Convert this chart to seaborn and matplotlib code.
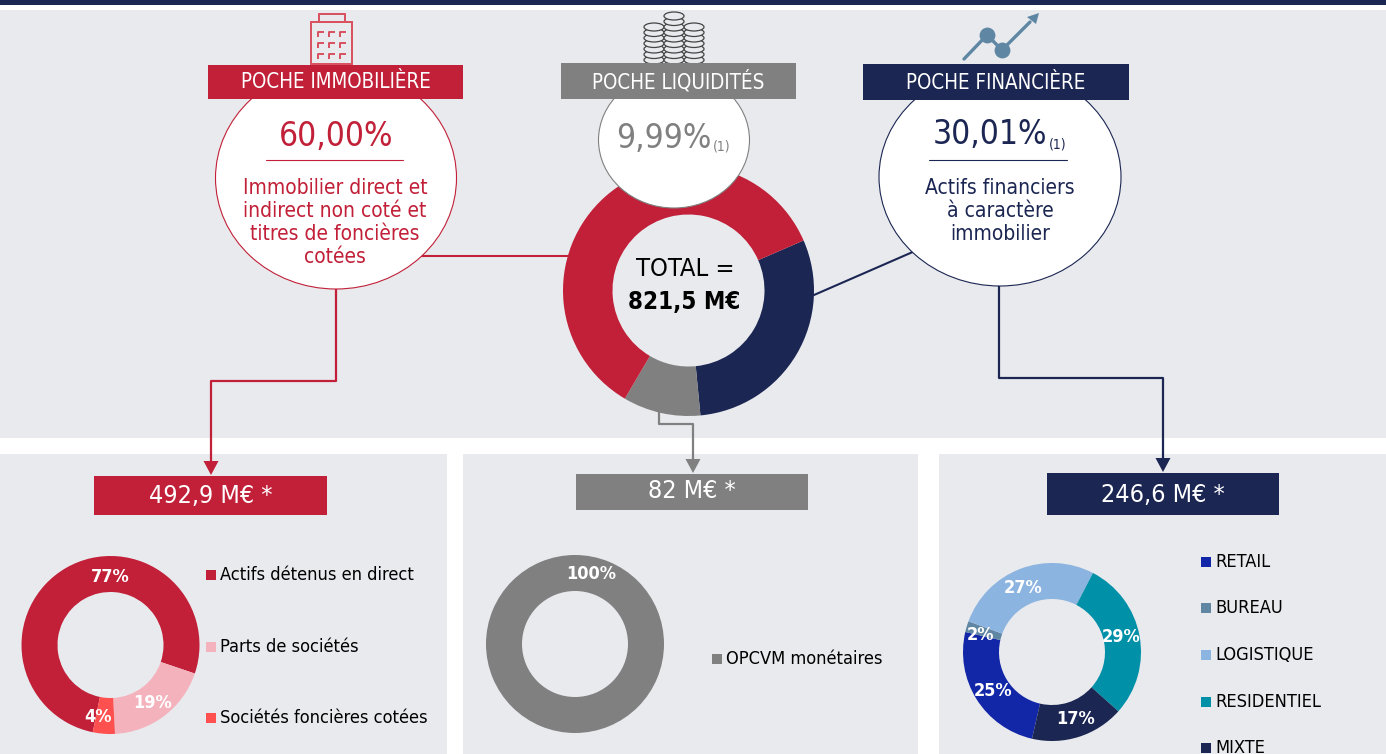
import matplotlib
matplotlib.use("Agg")
import matplotlib.pyplot as plt
from matplotlib.patches import Rectangle, Ellipse, Polygon
import seaborn as sns

W, H = 1386, 754

NAVY = "#1B2652"
RED = "#C12038"
GREY = "#808080"
PANEL = "#E9EAEE"

total_labels = ["Poche financière", "Poche liquidités", "Poche immobilière"]
total_values = [30.01, 9.99, 60.00]
total_colors = [NAVY, GREY, RED]

immo_labels = ["Actifs détenus en direct", "Parts de sociétés", "Sociétés foncières cotées"]
immo_values = [77, 19, 4]
immo_colors = [RED, "#F4B3BC", "#FF5050"]

liq_labels = ["OPCVM monétaires"]
liq_values = [100]
liq_colors = [GREY]

fin_labels = ["RETAIL", "BUREAU", "LOGISTIQUE", "RESIDENTIEL", "MIXTE"]
fin_values = [25, 2, 27, 29, 17]
fin_colors = ["#1226A8", "#5F86A3", "#8BB4E0", "#0090A8", NAVY]

sns.set_theme(style="white")
plt.rcParams["font.family"] = ["DejaVu Sans"]
plt.rcParams["font.stretch"] = "condensed"

fig = plt.figure(figsize=(W / 100, H / 100), dpi=100, facecolor="white")


def pixel_axes(z):
    a = fig.add_axes([0, 0, 1, 1], zorder=z)
    a.set_xlim(0, W)
    a.set_ylim(H, 0)
    a.axis("off")
    a.patch.set_alpha(0)
    return a


base = pixel_axes(0)
top = pixel_axes(2)


def donut(cx, cy, r, inner, values, colors, start):
    a = fig.add_axes([(cx - r) / W, 1 - (cy + r) / H, 2 * r / W, 2 * r / H], zorder=1)
    a.pie(values, colors=sns.color_palette(colors), startangle=start, counterclock=False,
          radius=1, wedgeprops={"width": 1 - inner / r, "linewidth": 0})
    a.set_xlim(-1, 1)
    a.set_ylim(-1, 1)
    a.axis("off")


def txt(x, y, s, size, color="black", ha="center", **kw):
    top.text(x, y, s, fontsize=size, color=color, ha=ha, va="center", stretch="condensed", **kw)


def box(ax, x0, y0, x1, y1, color, z=1):
    ax.add_patch(Rectangle((x0, y0), x1 - x0, y1 - y0, facecolor=color, edgecolor="none", zorder=z))


# fonds
box(base, 0, 0, W, 4.5, NAVY)
box(base, 0, 9.5, W, 438, PANEL)
box(base, 0, 454, 447, H, PANEL)
box(base, 463, 454, 918, H, PANEL)
box(base, 939, 454, W, H, PANEL)

# donuts
donut(688.5, 290.5, 125.5, 76, total_values, total_colors, 23.5)
donut(110.5, 645, 89, 53, immo_values, immo_colors, -101.5)
donut(575, 644, 89, 53, liq_values, liq_colors, 90)
donut(1052, 652, 89, 53, fin_values, fin_colors, -103)

# connecteurs
top.plot([421, 570], [256, 256], color=RED, lw=1.5, zorder=1)
top.plot([814, 915], [295, 251], color=NAVY, lw=1.5, zorder=1)
top.plot([336, 336, 211, 211], [285, 381, 381, 462], color=RED, lw=1.6, zorder=1)
top.plot([659, 659, 693, 693], [410, 424, 424, 460], color=GREY, lw=1.6, zorder=1)
top.plot([999, 999, 1163, 1163], [285, 378, 378, 460], color=NAVY, lw=1.6, zorder=1)
for x, y, c in [(211, 475, RED), (693, 473, GREY), (1163, 472, NAVY)]:
    top.add_patch(Polygon([(x - 7.5, y - 14), (x + 7.5, y - 14), (x, y)], facecolor=c, edgecolor="none", zorder=1))

# bulles
top.add_patch(Ellipse((336, 178), 241, 222, facecolor="white", edgecolor=RED, lw=0.8, zorder=2))
top.add_patch(Ellipse((674, 140), 151, 136, facecolor="white", edgecolor=GREY, lw=0.8, zorder=2))
top.add_patch(Ellipse((1000, 177), 242, 218, facecolor="white", edgecolor=NAVY, lw=0.8, zorder=2))

# entetes
box(top, 208, 65, 463, 99, RED, 3)
box(top, 561, 63, 796, 99, GREY, 3)
box(top, 863, 64, 1129, 100, NAVY, 3)
txt(335.5, 82, "POCHE IMMOBILIÈRE", 14.8, "white", zorder=4)
txt(678.5, 81, "POCHE LIQUIDITÉS", 14.8, "white", zorder=4)
txt(996, 83, "POCHE FINANCIÈRE", 14.8, "white", zorder=4)

# contenu des bulles
txt(336, 136, "60,00%", 24, RED, zorder=4)
top.plot([266, 403], [160, 160], color=RED, lw=0.8, zorder=4)
for y, s in zip([188, 211, 234, 257], ["Immobilier direct et", "indirect non coté et", "titres de foncières", "cotées"]):
    txt(335, y, s, 15, RED, zorder=4)

txt(664, 139, "9,99%", 24, GREY, zorder=4)
txt(722, 147, "(1)", 10, GREY, zorder=4)

txt(990, 135, "30,01%", 24, NAVY, zorder=4)
txt(1058, 144, "(1)", 10, NAVY, zorder=4)
top.plot([929, 1067], [160, 160], color=NAVY, lw=0.8, zorder=4)
for y, s in zip([188, 211, 234], ["Actifs financiers", "à caractère", "immobilier"]):
    txt(1000, y, s, 15, NAVY, zorder=4)

# centre
txt(685, 269, "TOTAL =", 18.3, "black", zorder=4)
txt(684, 302, "821,5 M€", 17.3, "black", fontweight="bold", zorder=4)

# bandeaux montants
box(top, 94, 476, 327, 515, RED, 3)
box(top, 576, 474, 808, 510, GREY, 3)
box(top, 1047, 473, 1279, 515, NAVY, 3)
txt(211, 496, "492,9 M€ *", 18, "white", zorder=4)
txt(692, 491, "82 M€ *", 18, "white", zorder=4)
txt(1163, 495, "246,6 M€ *", 18, "white", zorder=4)

# pourcentages
for x, y, s in [(110, 577, "77%"), (153, 703, "19%"), (98, 717, "4%")]:
    txt(x, y, s, 13, "white", fontweight="bold", zorder=4)
txt(591, 574, "100%", 13, "white", fontweight="bold", zorder=4)
for x, y, s in [(1023, 588, "27%"), (981, 635, "2%"), (1121, 637, "29%"), (993, 691, "25%"), (1076, 719, "17%")]:
    txt(x, y, s, 13, "white", fontweight="bold", zorder=4)


# legendes
def legend(x, ys, labels, colors):
    for y, lab, c in zip(ys, labels, colors):
        box(top, x, y - 5, x + 10, y + 5, c, 3)
        txt(x + 14, y, lab, 13.1, "black", ha="left", zorder=4)


legend(206, [575, 647, 718], immo_labels, immo_colors)
legend(712, [659], liq_labels, liq_colors)
legend(1201, [562, 608, 655, 702, 748], fin_labels, fin_colors)

# icones
ICON_RED = "#D9505F"
top.add_patch(Rectangle((311, 22), 41, 42, facecolor="none", edgecolor=ICON_RED, lw=1.4, zorder=2))
top.add_patch(Rectangle((319, 14), 26, 8, facecolor="none", edgecolor=ICON_RED, lw=1.4, zorder=2))
for wy in [32, 43, 54]:
    for wx in [318, 329, 340]:
        top.plot([wx, wx, wx + 6], [wy + 5, wy, wy], color=ICON_RED, lw=1.4, zorder=2, solid_capstyle="butt")

for cx, y0 in [(654, 27), (694, 27), (674, 15)]:
    y = 60
    while y >= y0 - 0.5:
        top.add_patch(Ellipse((cx, y), 20, 8, facecolor=PANEL, edgecolor="#444444", lw=0.9, zorder=2))
        y -= 5.5

ICON_BLUE = "#5F86A3"
top.plot([964, 987, 1002, 1030], [59, 35, 50, 22], color=ICON_BLUE, lw=2.4, zorder=2)
top.scatter([987, 1002], [35, 50], s=130, color=ICON_BLUE, zorder=2, linewidths=0)
top.add_patch(Polygon([(1039, 13), (1036, 24), (1027, 17)], facecolor=ICON_BLUE, edgecolor="none", zorder=2))

fig.savefig("out.png", dpi=100, facecolor="white")
